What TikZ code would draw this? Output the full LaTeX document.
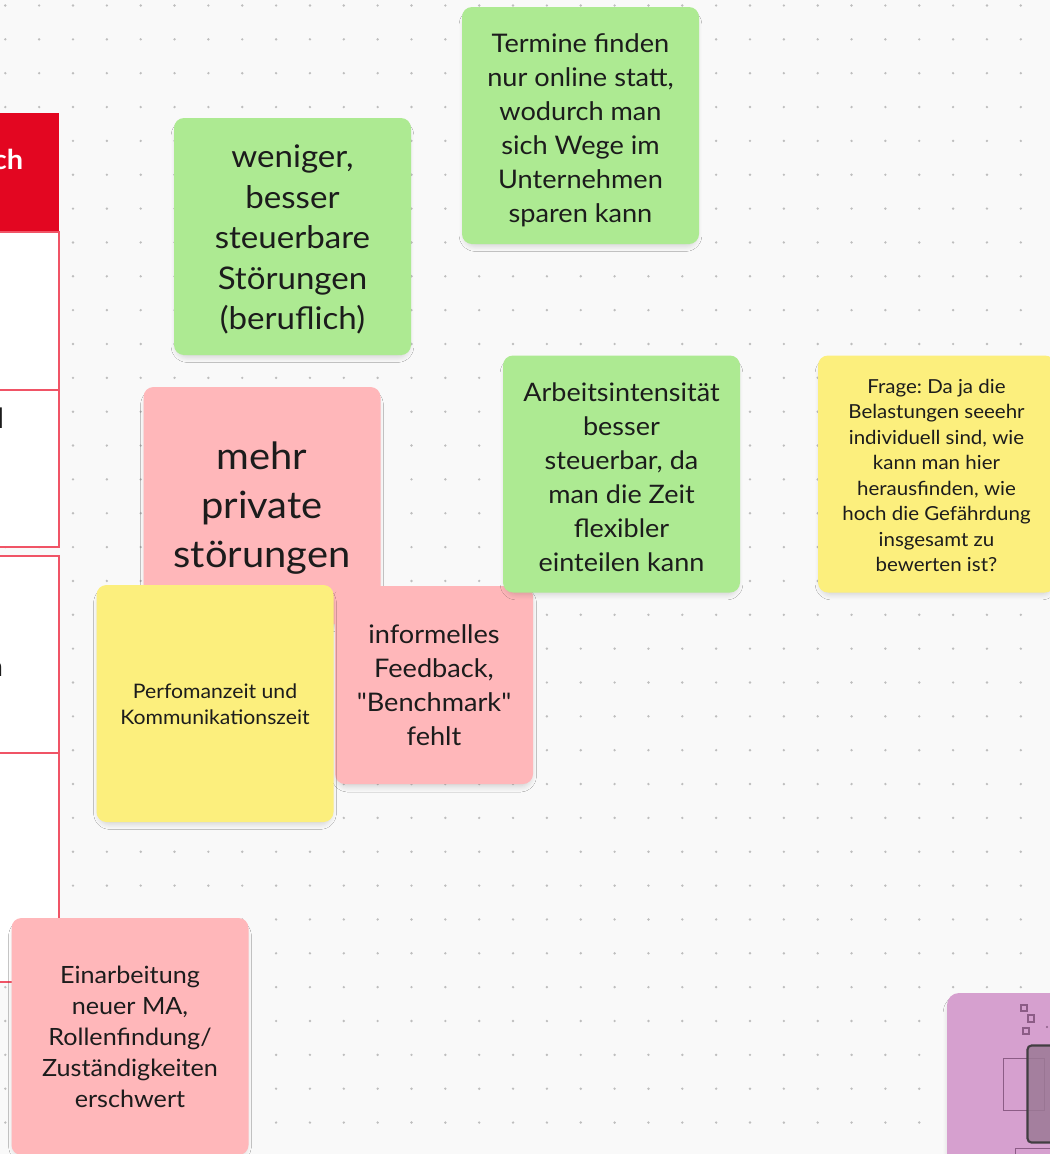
\documentclass[tikz,border=0pt]{standalone}
\usepackage{fontspec}
\setmainfont[FakeStretch=1.06, Ligatures=TeXOff]{Lato}
\frenchspacing
\usetikzlibrary{shadows.blur}
\definecolor{bg}{RGB}{249,249,249}
\definecolor{dotc}{RGB}{190,190,190}
\definecolor{notegreen}{RGB}{173,234,146}
\definecolor{notepink}{RGB}{255,183,186}
\definecolor{noteyellow}{RGB}{252,239,125}
\definecolor{notepurple}{RGB}{214,160,207}
\definecolor{hdrred}{RGB}{227,6,33}
\definecolor{tline}{RGB}{240,84,102}
\definecolor{txt}{RGB}{28,28,28}
\definecolor{purpline}{RGB}{140,92,134}
\definecolor{darkfill}{RGB}{156,122,150}
\definecolor{darkedge}{RGB}{66,62,66}
\tikzset{
  softshadow/.style={blur shadow={shadow xshift=0pt, shadow yshift=-3.5pt, shadow scale=0.97,
    shadow blur radius=5pt, shadow blur steps=8, shadow opacity=20}},
  sticky/.style={rounded corners=7.5pt, minimum width=177.75pt, minimum height=177.75pt,
    inner sep=0pt, softshadow},
  smallsticky/.style={sticky, minimum width=148.5pt, minimum height=148.5pt},
  notetext/.style={align=center, text=txt, inner sep=0pt},
  cellbox/.style={draw=tline, line width=1.5pt, fill=white},
  frag/.style={inner sep=0pt, text=txt}
}
\begin{document}
\begin{tikzpicture}[x=0.75pt,y=-0.75pt]
\useasboundingbox (0,0) rectangle (1050,1154);
\clip (0,0) rectangle (1050,1154);
\fill[bg] (0,0) rectangle (1050,1154);
% dot grid
\foreach \i in {0,...,31}{
  \foreach \j in {0,...,34}{
    \fill[dotc] ({5.3+33.85*\i},{5.5+33.85*\j}) circle (1pt);
  }
}
% table on the left edge
\fill[hdrred] (-5,113) rectangle (59,232);
\node[anchor=base east, inner sep=0pt, text=white, font=\bfseries\fontsize{20.5pt}{22pt}\selectfont] (hdr) at (23.5,169) {ch};
\draw[cellbox] (-5,232) rectangle (58.5,390);
\draw[cellbox] (-5,390) rectangle (58.5,547);
\draw[cellbox] (-5,556) rectangle (58.5,753);
\draw[cellbox] (-5,753) rectangle (58.5,981.5);
\node[frag, anchor=base east, font=\fontsize{21pt}{24pt}\selectfont] (f2) at (4.5,428) {l};
\node[frag, anchor=base east, font=\fontsize{21pt}{24pt}\selectfont] (f3) at (3.5,676) {n};
% sticky notes
\node[sticky, fill=notegreen] (n2) at (292.5,236.5) {};
\node[notetext, font=\fontsize{23.4pt}{30.4pt}\selectfont] (n2t) at ([yshift=-2.2pt]n2.center)
  {weniger,\\besser\\steuerbare\\Störungen\\(beruflich)};
\node[sticky, fill=notegreen] (n1) at (580.5,125.5) {};
\node[notetext, font=\fontsize{19.2pt}{25.5pt}\selectfont] (n1t) at ([yshift=-3.2pt]n1.center)
  {Termine finden\\nur online statt,\\wodurch man\\sich Wege im\\Unternehmen\\sparen kann};
\node[sticky, fill=notepink] (n3) at (262,505.5) {};
\node[notetext, font=\fontsize{28.2pt}{36.75pt}\selectfont] (n3t) at ([yshift=-1.6pt]n3.center)
  {mehr\\private\\störungen};
\node[smallsticky, fill=notepink] (n7) at (434,685) {};
\node[notetext, font=\fontsize{19.2pt}{25.5pt}\selectfont] (n7t) at (n7.center)
  {informelles\\Feedback,\\"Benchmark"\\fehlt};
\node[sticky, fill=noteyellow] (n6) at (215,703.5) {};
\node[notetext, font=\fontsize{15pt}{19.5pt}\selectfont] (n6t) at ([yshift=-0.6pt]n6.center)
  {Perfomanzeit und\\Kommunikationszeit};
\node[sticky, fill=notegreen] (n4) at (621.5,474) {};
\node[notetext, font=\fontsize{19.1pt}{25.5pt}\selectfont] (n4t) at ([yshift=-2.2pt]n4.center)
  {Arbeitsintensität\\besser\\steuerbar, da\\man die Zeit\\flexibler\\einteilen kann};
\node[sticky, fill=noteyellow] (n5) at (936.5,474) {};
\node[notetext, font=\fontsize{14.5pt}{19.1pt}\selectfont] (n5t) at ([yshift=-1pt]n5.center)
  {Frage: Da ja die\\Belastungen seeehr\\individuell sind, wie\\kann man hier\\herausfinden, wie\\hoch die Gefährdung\\insgesamt zu\\bewerten ist?};
\node[sticky, fill=notepink] (n8) at (130,1036.5) {};
\node[notetext, font=\fontsize{17.8pt}{23.25pt}\selectfont] (n8t) at (n8.center)
  {Einarbeitung\\neuer MA,\\Rollenfindung/\\Zuständigkeiten\\erschwert};
% purple frame, bottom right
\fill[notepurple, rounded corners=9pt, softshadow] (947,993) rectangle (1120,1220);
\draw[purpline, line width=0.9pt] (1021,1005) rectangle (1027,1011);
\draw[purpline, line width=0.9pt] (1028,1015) rectangle (1034,1022);
\draw[purpline, line width=0.9pt] (1023,1028) rectangle (1029,1034);
\fill[purpline] (1047,1027) circle (0.9pt);
\draw[purpline, line width=0.75pt] (1003,1058) rectangle (1044,1110);
\draw[darkedge, line width=1.6pt, fill=darkfill, fill opacity=0.85, rounded corners=3pt] (1027.5,1045.5) rectangle (1080,1142.5);
\draw[purpline, line width=0.75pt] (1015,1148) rectangle (1080,1180);
\end{tikzpicture}
\end{document}
